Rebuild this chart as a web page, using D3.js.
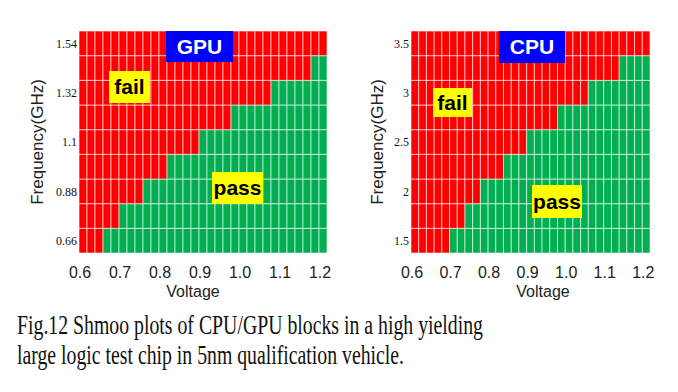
<!DOCTYPE html>
<html>
<head>
<meta charset="utf-8">
<script src="https://cdn.jsdelivr.net/npm/d3@7"></script>
<style>
  html, body { margin: 0; padding: 0; background: #fff; }
  svg { display: block; }
</style>
</head>
<body>
<svg id="chart" width="678" height="392"></svg>
<script>
// ---------------- data ----------------
const voltages = [0.60, 0.62, 0.64, 0.66, 0.68, 0.70, 0.72, 0.74, 0.76, 0.78,
                  0.80, 0.82, 0.84, 0.86, 0.88, 0.90, 0.92, 0.94, 0.96, 0.98,
                  1.00, 1.02, 1.04, 1.06, 1.08, 1.10, 1.12, 1.14, 1.16, 1.18, 1.20];
const xTickValues = [0.6, 0.7, 0.8, 0.9, 1.0, 1.1, 1.2];

const gpuFreqs = [0.66, 0.77, 0.88, 0.99, 1.10, 1.21, 1.32, 1.43, 1.54];
const gpuTickValues = [0.66, 0.88, 1.1, 1.32, 1.54];
// lowest passing voltage for each GPU frequency row (null = fails everywhere)
const gpuMinPassV = [0.66, 0.70, 0.76, 0.82, 0.90, 0.98, 1.08, 1.18, null];

const cpuFreqs = [1.5, 1.75, 2.0, 2.25, 2.5, 2.75, 3.0, 3.25, 3.5];
const cpuTickValues = [1.5, 2, 2.5, 3, 3.5];
// lowest passing voltage for each CPU frequency row (null = fails everywhere)
const cpuMinPassV = [0.70, 0.74, 0.78, 0.84, 0.90, 0.98, 1.06, 1.14, null];

const captionLines = [
  "Fig.12 Shmoo plots of CPU/GPU blocks in a high yielding",
  "large logic test chip in 5nm qualification vehicle."
];

// ---------------- layout ----------------
const PASS = "#00b050", FAIL = "#ff0000";
const svg = d3.select("#chart");

const panels = [
  {
    name: "GPU", freqs: gpuFreqs, ticks: gpuTickValues, minPass: gpuMinPassV,
    x0: 79, x1: 327, y0: 31, y1: 253,
    titleBox: [166, 31, 67, 31],
    failBox: [109, 71, 41, 32],
    passBox: [212, 172, 51, 32],
    yLabelX: 37, xLabelX: 193
  },
  {
    name: "CPU", freqs: cpuFreqs, ticks: cpuTickValues, minPass: cpuMinPassV,
    x0: 411, x1: 650, y0: 31, y1: 253,
    titleBox: [499, 31, 66, 32],
    failBox: [433, 88, 39, 29],
    passBox: [532, 185, 50, 33],
    yLabelX: 377, xLabelX: 543
  }
];

panels.forEach(p => {
  const g = svg.append("g");
  const x = d3.scaleBand().domain(voltages).range([p.x0, p.x1]).padding(0);
  const y = d3.scaleBand().domain(p.freqs).range([p.y1, p.y0]).padding(0);

  const cells = [];
  p.freqs.forEach((f, i) => {
    voltages.forEach(v => {
      const th = p.minPass[i];
      const pass = th !== null && v >= th - 1e-9;
      cells.push({ f, v, pass });
    });
  });

  g.selectAll("rect.cell").data(cells).join("rect")
    .attr("class", "cell")
    .attr("x", d => x(d.v))
    .attr("y", d => y(d.f))
    .attr("width", x.bandwidth())
    .attr("height", y.bandwidth())
    .attr("fill", d => d.pass ? PASS : FAIL)
    .attr("stroke", "#ffffff")
    .attr("stroke-opacity", 0.6)
    .attr("stroke-width", 1);

  // x axis tick labels (at left edge of each voltage column)
  g.selectAll("text.xt").data(xTickValues).join("text")
    .attr("class", "xt")
    .attr("x", d => x(d) + 1)
    .attr("y", 278)
    .attr("text-anchor", "middle")
    .attr("font-family", "Liberation Sans, Arial, sans-serif")
    .attr("font-size", 16)
    .attr("fill", "#222")
    .text(d => d3.format(".1f")(d));

  // y axis tick labels
  g.selectAll("text.yt").data(p.ticks).join("text")
    .attr("class", "yt")
    .attr("x", p.x0 - 2)
    .attr("y", d => y(d) + y.bandwidth() / 2)
    .attr("dy", "0.35em")
    .attr("text-anchor", "end")
    .attr("font-family", "Liberation Serif, Times New Roman, serif")
    .attr("font-size", 12)
    .attr("fill", "#111")
    .text(d => String(d));

  // axis titles
  g.append("text")
    .attr("x", p.xLabelX).attr("y", 297)
    .attr("text-anchor", "middle")
    .attr("font-family", "Liberation Sans, Arial, sans-serif")
    .attr("font-size", 16).attr("fill", "#222")
    .text("Voltage");

  g.append("text")
    .attr("transform", `translate(${p.yLabelX + 6},${(p.y0 + p.y1) / 2}) rotate(-90)`)
    .attr("text-anchor", "middle")
    .attr("font-family", "Liberation Sans, Arial, sans-serif")
    .attr("font-size", 17).attr("fill", "#222")
    .text("Frequency(GHz)");

  // labels
  const box = (b, fill, txt, color) => {
    g.append("rect").attr("x", b[0]).attr("y", b[1]).attr("width", b[2]).attr("height", b[3]).attr("fill", fill);
    g.append("text")
      .attr("x", b[0] + b[2] / 2).attr("y", b[1] + b[3] / 2)
      .attr("dy", "0.35em")
      .attr("text-anchor", "middle")
      .attr("font-family", "Liberation Sans, Arial, sans-serif")
      .attr("font-weight", "bold")
      .attr("font-size", 21)
      .attr("fill", color)
      .text(txt);
  };
  box(p.titleBox, "#0000ff", p.name, "#ffffff");
  box(p.failBox, "#ffff00", "fail", "#000000");
  box(p.passBox, "#ffff00", "pass", "#000000");
});

// caption
svg.selectAll("text.cap").data(captionLines).join("text")
  .attr("class", "cap")
  .attr("x", 17)
  .attr("y", (d, i) => 334 + i * 30)
  .attr("font-family", "Liberation Serif, Times New Roman, serif")
  .attr("font-size", 27)
  .attr("fill", "#111")
  .attr("textLength", (d, i) => i === 0 ? 466 : 387)
  .attr("lengthAdjust", "spacingAndGlyphs")
  .text(d => d);
</script>
</body>
</html>
